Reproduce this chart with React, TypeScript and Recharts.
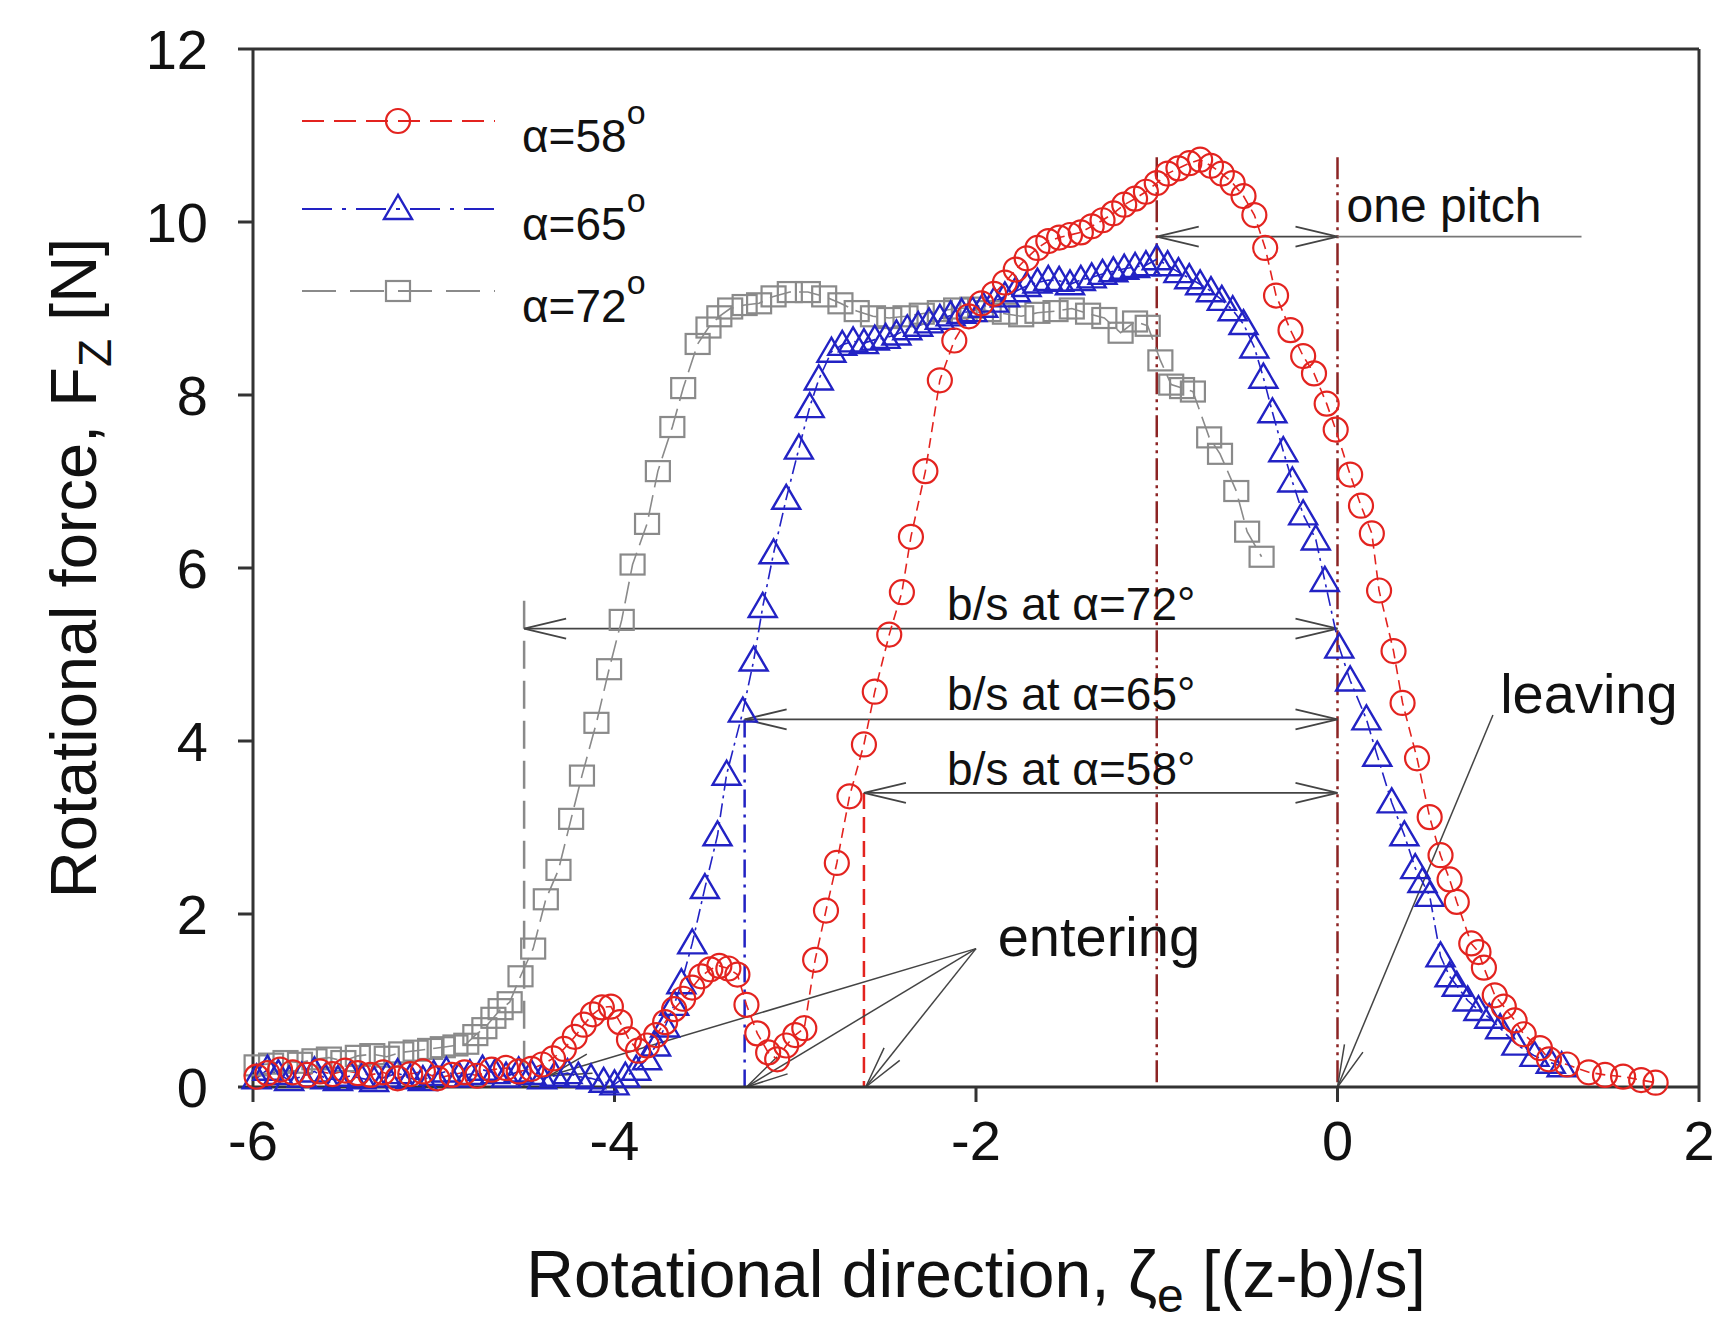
import { LineChart, Line, XAxis, YAxis, ReferenceLine, ReferenceDot, Legend } from 'recharts';

const FONT = '"Liberation Sans", Arial, Helvetica, sans-serif';

const xTicks = [-6, -4, -2, 0, 2];
const yTicks = [0, 2, 4, 6, 8, 10, 12];

// alpha = 58 deg (red circles)
const red58X = [
  -5.98, -5.92, -5.85, -5.78, -5.7, -5.63, -5.56, -5.49, -5.42, -5.35,
  -5.28, -5.2, -5.13, -5.06, -4.98, -4.9, -4.83, -4.76, -4.68, -4.6,
  -4.53, -4.46, -4.4, -4.34, -4.28, -4.22, -4.17, -4.12, -4.07, -4.02,
  -3.97, -3.92, -3.87, -3.82, -3.77, -3.72, -3.67, -3.62, -3.57, -3.52,
  -3.47, -3.42, -3.37, -3.32, -3.27, -3.21, -3.15, -3.1, -3.05, -3.0,
  -2.95, -2.89, -2.83, -2.77, -2.7, -2.62, -2.56, -2.48, -2.41, -2.36,
  -2.28, -2.2, -2.12, -2.04, -1.97, -1.9, -1.84, -1.78, -1.72, -1.66,
  -1.6, -1.54, -1.48, -1.42, -1.36, -1.3, -1.24, -1.18, -1.12, -1.06,
  -1.0, -0.94, -0.88, -0.82, -0.76, -0.7, -0.64, -0.58, -0.52, -0.46,
  -0.4, -0.34, -0.26, -0.19, -0.13, -0.06, -0.01, 0.07, 0.13, 0.19,
  0.23, 0.31, 0.36, 0.44, 0.51, 0.57, 0.62, 0.66, 0.74, 0.78,
  0.81, 0.87, 0.92, 0.98, 1.03, 1.12, 1.17, 1.27, 1.39, 1.48,
  1.58, 1.68, 1.76,
];
const red58Y = [
  0.12, 0.16, 0.2, 0.17, 0.14, 0.18, 0.15, 0.19, 0.16, 0.14,
  0.17, 0.1, 0.15, 0.18, 0.1, 0.14, 0.17, 0.13, 0.2, 0.22,
  0.18, 0.21, 0.26, 0.33, 0.44, 0.58, 0.72, 0.84, 0.92, 0.93,
  0.75, 0.55, 0.42, 0.48, 0.6, 0.75, 0.9, 1.02, 1.15, 1.28,
  1.36, 1.4, 1.37, 1.3, 0.95, 0.62, 0.4, 0.32, 0.48, 0.6,
  0.68, 1.47, 2.04, 2.59, 3.36, 3.96, 4.57, 5.23, 5.72, 6.36,
  7.12, 8.17, 8.63, 8.91, 9.06, 9.17, 9.3, 9.45, 9.58, 9.7,
  9.78, 9.82, 9.85, 9.88, 9.95, 10.02, 10.1, 10.2, 10.27, 10.35,
  10.45, 10.56, 10.62, 10.68, 10.72, 10.65, 10.56, 10.45, 10.3, 10.08,
  9.7, 9.15, 8.75, 8.45, 8.25, 7.9, 7.6, 7.08, 6.72, 6.4,
  5.74, 5.04, 4.44, 3.8, 3.12, 2.68, 2.4, 2.14, 1.66, 1.56,
  1.38, 1.06, 0.93, 0.77, 0.61, 0.45, 0.32, 0.26, 0.17, 0.14,
  0.12, 0.08, 0.05,
];

// alpha = 65 deg (blue triangles)
const blue65X = [
  -5.98, -5.92, -5.86, -5.8, -5.73, -5.66, -5.6, -5.53, -5.46, -5.4,
  -5.33, -5.26, -5.2, -5.13, -5.06, -5.0, -4.93, -4.86, -4.8, -4.73,
  -4.66, -4.6, -4.53, -4.46, -4.4, -4.33, -4.26, -4.2, -4.13, -4.06,
  -4.0, -3.94, -3.88, -3.82, -3.77, -3.72, -3.67, -3.63, -3.57, -3.5,
  -3.43, -3.38, -3.29, -3.23, -3.18, -3.12, -3.05, -2.98, -2.92, -2.87,
  -2.8, -2.74, -2.68, -2.62, -2.56, -2.5, -2.44, -2.38, -2.32, -2.26,
  -2.2, -2.14, -2.08, -2.02, -1.96, -1.9, -1.84, -1.78, -1.72, -1.66,
  -1.6, -1.54, -1.48, -1.42, -1.36, -1.3, -1.24, -1.18, -1.12, -1.06,
  -1.0, -0.94, -0.88, -0.82, -0.76, -0.7, -0.64, -0.58, -0.52, -0.46,
  -0.41, -0.36, -0.3, -0.25, -0.19, -0.12, -0.07, 0.01, 0.07, 0.16,
  0.22, 0.3, 0.37, 0.43, 0.47, 0.51, 0.57, 0.62, 0.66, 0.72,
  0.78, 0.84, 0.9, 0.99, 1.09, 1.18, 1.24,
];
const blue65Y = [
  0.1, 0.2, 0.15, 0.08, 0.12, 0.18, 0.1, 0.08, 0.13, 0.1,
  0.07, 0.12, 0.16, 0.1, 0.08, 0.14, 0.18, 0.12, 0.15, 0.2,
  0.16, 0.12, 0.18, 0.15, 0.1, 0.13, 0.16, 0.12, 0.1, 0.06,
  0.03, 0.12, 0.2, 0.32, 0.48, 0.7, 0.95, 1.2, 1.66, 2.3,
  2.91, 3.61, 4.34, 4.93, 5.55, 6.17, 6.8, 7.38, 7.86, 8.18,
  8.5, 8.58, 8.62, 8.6, 8.64, 8.66, 8.7, 8.76, 8.8, 8.84,
  8.88, 8.92, 8.95, 8.97, 9.02, 9.08, 9.14, 9.2, 9.26, 9.3,
  9.33, 9.32, 9.28, 9.33, 9.36, 9.4, 9.43, 9.46, 9.48, 9.5,
  9.57, 9.5, 9.42, 9.35, 9.28, 9.2, 9.1, 8.98, 8.82, 8.55,
  8.2, 7.8, 7.35, 7.0, 6.62, 6.33, 5.85, 5.08, 4.7, 4.25,
  3.83, 3.29, 2.91, 2.53, 2.37, 2.21, 1.51, 1.28, 1.17, 1.0,
  0.89, 0.8, 0.68, 0.49, 0.36, 0.28, 0.24,
];

// alpha = 72 deg (grey squares)
const grey72X = [
  -5.98, -5.9, -5.82, -5.74, -5.66, -5.58, -5.5, -5.42, -5.34, -5.26,
  -5.18, -5.1, -5.02, -4.95, -4.88, -4.82, -4.77, -4.72, -4.67, -4.63,
  -4.58, -4.52, -4.45, -4.38, -4.31, -4.24, -4.18, -4.1, -4.03, -3.96,
  -3.9, -3.82, -3.76, -3.68, -3.62, -3.54, -3.48, -3.42, -3.36, -3.28,
  -3.2, -3.12, -3.03, -2.93, -2.84, -2.75, -2.66, -2.57, -2.48, -2.39,
  -2.3, -2.2, -2.11, -2.02, -1.93, -1.84, -1.75, -1.66, -1.56, -1.47,
  -1.38, -1.29, -1.2, -1.12, -1.05, -0.98, -0.92, -0.86, -0.8, -0.71,
  -0.65, -0.56, -0.5, -0.42,
];
const grey72Y = [
  0.25, 0.27, 0.3, 0.28, 0.32, 0.34, 0.3, 0.36, 0.38, 0.35,
  0.4, 0.42, 0.44, 0.46, 0.48, 0.5, 0.6, 0.68, 0.8, 0.9,
  0.98, 1.28, 1.6, 2.17, 2.51, 3.1, 3.6, 4.21, 4.83, 5.4,
  6.04, 6.51, 7.12, 7.63, 8.08, 8.59, 8.78, 8.91, 9.0, 9.04,
  9.06, 9.14, 9.19, 9.19, 9.14, 9.06, 8.97, 8.91, 8.89, 8.91,
  8.94, 8.97, 9.0, 9.01, 8.97, 8.94, 8.91, 8.95, 8.97, 9.0,
  8.94, 8.89, 8.72, 8.85, 8.8, 8.4, 8.12, 8.08, 8.04, 7.51,
  7.32, 6.89, 6.42, 6.13,
];

// annotations (data units)
const spanLabels = ['b/s at α=72°', 'b/s at α=65°', 'b/s at α=58°'];
const spanFrom = [-4.5, -3.28, -2.62];
const spanLevel = [5.3, 4.25, 3.4];
const spanMarkTop = [5.62, 4.25, 3.4];
const spanTextY = [5.4, 4.36, 3.49];
const spanTextX = -2.16;
const pitchLines = [-1, 0];
const pitchTop = 10.75;
const pitchLevel = 9.83;
const pitchTailEnd = 1.35;
const enteringFrom = { x: -2.0, y: 1.6 };
const enteringTo = [
  { x: -4.36, y: 0.13 },
  { x: -3.27, y: 0 },
  { x: -2.61, y: 0 },
];
const leavingFrom = { x: 0.86, y: 4.3 };
const leavingTo = { x: 0, y: 0 };

const zip = (xs: number[], ys: number[]) => xs.map((x, i) => ({ x, y: ys[i] }));

type Kind = 'circle' | 'triangle' | 'square';

const series = [
  { key: 'a58', angle: 58, color: '#e3231f', dash: '10 6', legendDash: '22 10', marker: 'circle' as Kind, data: zip(red58X, red58Y) },
  { key: 'a65', angle: 65, color: '#2222c4', dash: '14 5 3 5', legendDash: '30 10 4 10', marker: 'triangle' as Kind, data: zip(blue65X, blue65Y) },
  { key: 'a72', angle: 72, color: '#8a8a8a', dash: '22 8', legendDash: '34 14', marker: 'square' as Kind, data: zip(grey72X, grey72Y) },
];

function Marker({ kind, cx, cy, color }: { kind: Kind; cx: number; cy: number; color: string }) {
  if (cx == null || cy == null) return null;
  if (kind === 'circle') {
    return <circle cx={cx} cy={cy} r={12} fill="none" stroke={color} strokeWidth={2.2} />;
  }
  if (kind === 'triangle') {
    return (
      <polygon
        points={`${cx},${cy - 14} ${cx - 14},${cy + 10} ${cx + 14},${cy + 10}`}
        fill="none"
        stroke={color}
        strokeWidth={2.4}
      />
    );
  }
  return <rect x={cx - 12} y={cy - 10} width={24} height={20} fill="none" stroke={color} strokeWidth={2.2} />;
}

// line with open arrow heads
const arrowShape = (heads: 'none' | 'end' | 'both', color = '#444', width = 1.8) => (p: any) => {
  const { x1, y1, x2, y2 } = p;
  const head = (tx: number, ty: number, fx: number, fy: number) => {
    const a = Math.atan2(ty - fy, tx - fx);
    const L = 42;
    const W = 10;
    const bx = tx - L * Math.cos(a);
    const by = ty - L * Math.sin(a);
    const nx = -Math.sin(a) * W;
    const ny = Math.cos(a) * W;
    return `M${bx + nx},${by + ny} L${tx},${ty} L${bx - nx},${by - ny}`;
  };
  return (
    <g>
      <line x1={x1} y1={y1} x2={x2} y2={y2} stroke={color} strokeWidth={width} />
      {heads !== 'none' && <path d={head(x2, y2, x1, y1)} fill="none" stroke={color} strokeWidth={width} />}
      {heads === 'both' && <path d={head(x1, y1, x2, y2)} fill="none" stroke={color} strokeWidth={width} />}
    </g>
  );
};

const textShape = (label: string, size: number) => (p: any) => (
  <text x={p.cx} y={p.cy} fontSize={size} fontFamily={FONT} fill="#111">
    {label}
  </text>
);

const renderLegend = () => {
  const rows = [121, 209, 291];
  return (
    <svg width={700} height={340} style={{ display: 'block' }}>
      {series.map((s, i) => (
        <g key={s.key}>
          <line x1={302} x2={495} y1={rows[i]} y2={rows[i]} stroke={s.color} strokeWidth={2} strokeDasharray={s.legendDash} />
          <Marker kind={s.marker} cx={398} cy={rows[i]} color={s.color} />
          <text x={522} y={rows[i] + 31} fontSize={46} fontFamily={FONT} fill="#111">
            α={s.angle}
            <tspan dy={-28} fontSize={34}>o</tspan>
          </text>
        </g>
      ))}
    </svg>
  );
};

const xTitle = (props: any) => {
  const vb = props.viewBox;
  return (
    <text x={vb.x + vb.width / 2} y={vb.y + 210} textAnchor="middle" fontSize={66} fontFamily={FONT} fill="#111">
      Rotational direction, ζ
      <tspan fontSize={48} dy={15}>e</tspan>
      <tspan dy={-15}> [(z-b)/s]</tspan>
    </text>
  );
};

const yTitle = (props: any) => {
  const vb = props.viewBox;
  const cy = vb.y + vb.height / 2;
  return (
    <text transform={`translate(96,${cy}) rotate(-90)`} textAnchor="middle" fontSize={65} fontFamily={FONT} fill="#111">
      Rotational force, F
      <tspan fontSize={46} dy={15}>Z</tspan>
      <tspan dy={-15}> [N]</tspan>
    </text>
  );
};

const axisStroke = { stroke: '#333', strokeWidth: 3 };
const tickStyle = { fill: '#111', fontSize: 56, fontFamily: FONT };

export default function App() {
  return (
    <div style={{ position: 'absolute', left: 0, top: 0, width: 1724, height: 1331, background: '#fff' }}>
      <LineChart width={1724} height={1331} margin={{ top: 49, right: 25, bottom: 0, left: 0 }}>
        <XAxis
          type="number"
          dataKey="x"
          domain={[-6, 2]}
          ticks={xTicks}
          height={244}
          axisLine={axisStroke}
          tickLine={axisStroke}
          tickSize={15}
          tickMargin={18}
          tick={tickStyle}
          label={{ content: xTitle }}
        />
        <YAxis
          type="number"
          domain={[0, 12]}
          ticks={yTicks}
          width={253}
          axisLine={axisStroke}
          tickLine={axisStroke}
          tickSize={15}
          tickMargin={30}
          tick={tickStyle}
          label={{ content: yTitle }}
        />
        <ReferenceLine y={12} stroke="#333" strokeWidth={3} />
        <ReferenceLine x={2} stroke="#333" strokeWidth={3} />

        {pitchLines.map((x) => (
          <ReferenceLine
            key={`p${x}`}
            segment={[{ x, y: pitchTop }, { x, y: 0 }]}
            stroke="#8c2424"
            strokeWidth={2.5}
            strokeDasharray="22 5 3 5 3 5"
          />
        ))}
        <ReferenceLine segment={[{ x: spanFrom[0], y: spanMarkTop[0] }, { x: spanFrom[0], y: 0 }]} stroke="#8a8a8a" strokeWidth={2.5} strokeDasharray="28 12" />
        <ReferenceLine segment={[{ x: spanFrom[1], y: spanMarkTop[1] }, { x: spanFrom[1], y: 0 }]} stroke="#2222c4" strokeWidth={2.5} strokeDasharray="18 7 3 7" />
        <ReferenceLine segment={[{ x: spanFrom[2], y: spanMarkTop[2] }, { x: spanFrom[2], y: 0 }]} stroke="#e3231f" strokeWidth={2.5} strokeDasharray="16 8" />

        {spanLabels.map((lab, i) => (
          <ReferenceLine
            key={`s${i}`}
            segment={[{ x: spanFrom[i], y: spanLevel[i] }, { x: 0, y: spanLevel[i] }]}
            shape={arrowShape('both')}
          />
        ))}
        {spanLabels.map((lab, i) => (
          <ReferenceDot key={`t${i}`} x={spanTextX} y={spanTextY[i]} r={0} shape={textShape(lab, 46)} />
        ))}

        <ReferenceLine segment={[{ x: -1, y: pitchLevel }, { x: 0, y: pitchLevel }]} shape={arrowShape('both')} />
        <ReferenceLine segment={[{ x: 0, y: pitchLevel }, { x: pitchTailEnd, y: pitchLevel }]} shape={arrowShape('none', '#777')} />
        <ReferenceDot x={0.05} y={10.0} r={0} shape={textShape('one pitch', 48)} />

        {enteringTo.map((t, i) => (
          <ReferenceLine key={`e${i}`} segment={[enteringFrom, t]} shape={arrowShape('end', '#444', 1.5)} />
        ))}
        <ReferenceDot x={-1.88} y={1.51} r={0} shape={textShape('entering', 56)} />
        <ReferenceLine segment={[leavingFrom, leavingTo]} shape={arrowShape('end', '#444', 1.5)} />
        <ReferenceDot x={0.9} y={4.32} r={0} shape={textShape('leaving', 56)} />

        {[...series].reverse().map((s) => (
          <Line
            key={s.key}
            data={s.data}
            dataKey="y"
            type="linear"
            name={`α=${s.angle}`}
            stroke={s.color}
            strokeWidth={1.6}
            strokeDasharray={s.dash}
            dot={(p: any) => <Marker key={`${s.key}-${p.index}`} kind={s.marker} cx={p.cx} cy={p.cy} color={s.color} />}
            activeDot={false}
            isAnimationActive={false}
          />
        ))}

        <Legend
          layout="vertical"
          align="center"
          verticalAlign="middle"
          wrapperStyle={{ left: 0, top: 0, width: 700, height: 340 }}
          content={renderLegend}
        />
      </LineChart>
    </div>
  );
}
